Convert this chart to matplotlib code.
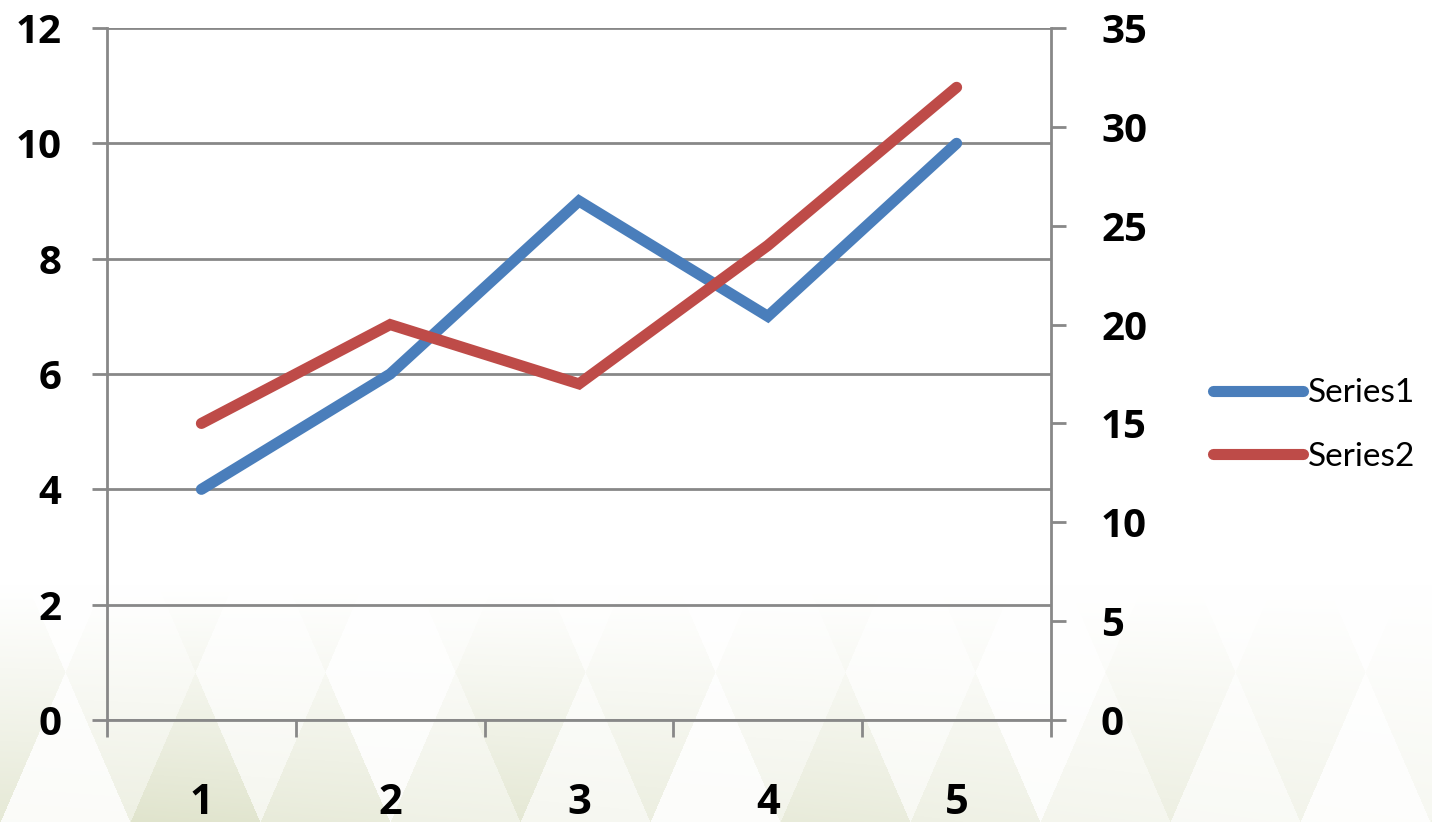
import numpy as np
import matplotlib
matplotlib.use("Agg")
import matplotlib.pyplot as plt
from matplotlib.ticker import MultipleLocator, FixedLocator, NullFormatter

# data
categorias = [1, 2, 3, 4, 5]
serie1 = [4, 6, 9, 7, 10]      # eixo esquerdo
serie2 = [15, 20, 17, 24, 32]  # eixo direito
nomes = ["Series1", "Series2"]

plt.rcParams["font.family"] = ["Lato", "DejaVu Sans"]

W, H, DPI = 1432, 822, 100
fig = plt.figure(figsize=(W / DPI, H / DPI), dpi=DPI)

# fundo com triangulos claros na parte de baixo
yy, xx = np.mgrid[0:H, 0:W].astype(float)
yb = H - yy
h, w = 150.0, 130.0
row = np.floor(yb / h)
v = (yb % h) / h
u = xx / w + (row % 2) * 0.5
k = np.floor(u - v / 2) + np.floor(u + v / 2)
shade = ((k * 7 + row * 3) % 5) / 4.0
ramp = np.clip((yy - 585) / (H - 585), 0, 1) ** 1.1
ramp *= np.clip(1.0 - 0.55 * xx / W, 0, 1)
alpha = ramp * (0.1 + 0.7 * shade)
base = np.array([0.84, 0.86, 0.74])
img = np.ones((H, W, 3)) * (1 - alpha[..., None]) + base * alpha[..., None]
bg = fig.add_axes([0, 0, 1, 1], zorder=-10)
bg.imshow(img, aspect="auto", interpolation="bilinear")
bg.axis("off")

ax = fig.add_axes([107 / W, 1 - 720 / H, (1051 - 107) / W, (720 - 28) / H])
ax.patch.set_alpha(0)
ax2 = ax.twinx()

grid = "#888888"
azul = "#4a7ebb"
verm = "#be4b48"

l1, = ax.plot(categorias, serie1, color=azul, lw=8, solid_capstyle="round",
              solid_joinstyle="miter", label=nomes[0])
l2, = ax2.plot(categorias, serie2, color=verm, lw=8, solid_capstyle="round",
               solid_joinstyle="miter", label=nomes[1])

ax.set_xlim(0.5, 5.5)
ax.set_ylim(0, 12)
ax2.set_ylim(0, 35)
ax.yaxis.set_major_locator(MultipleLocator(2))
ax2.yaxis.set_major_locator(MultipleLocator(5))
ax.set_xticks(categorias)
ax.xaxis.set_minor_locator(FixedLocator(np.arange(0.5, 6, 1)))
ax.xaxis.set_minor_formatter(NullFormatter())

ax.grid(axis="y", color=grid, lw=2)
ax.set_axisbelow(True)

for a in (ax, ax2):
    for sp in a.spines.values():
        sp.set_visible(False)
ax.spines["left"].set_visible(True)
ax.spines["bottom"].set_visible(True)
ax2.spines["right"].set_visible(True)
for sp in (ax.spines["left"], ax.spines["bottom"], ax2.spines["right"]):
    sp.set_color(grid)
    sp.set_linewidth(2)

ax.tick_params(axis="y", length=11, width=2, color=grid, pad=22, labelsize=29)
ax2.tick_params(axis="y", length=11, width=2, color=grid, pad=25, labelsize=29)
ax.tick_params(axis="x", which="major", length=0, pad=45, labelsize=30)
ax.tick_params(axis="x", which="minor", length=12, width=2, color=grid)
for t in ax.get_yticklabels() + ax2.get_yticklabels() + ax.get_xticklabels():
    t.set_fontfamily(["Open Sans", "DejaVu Sans"])
    t.set_fontweight("bold")

fig.legend(handles=[l1, l2], loc="center left", bbox_to_anchor=(1200 / W, 1 - 425 / H),
           frameon=False, fontsize=24, handlelength=2.7, handletextpad=0.15,
           labelspacing=1.0, borderaxespad=0)

fig.savefig("out.png", dpi=DPI)
